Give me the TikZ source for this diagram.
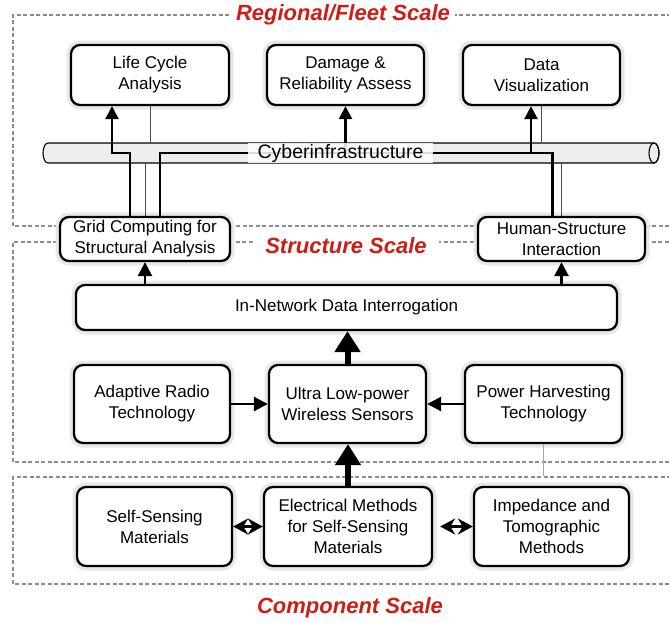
\documentclass[tikz,border=0pt]{standalone}
\usepackage{fontspec}
\setmainfont{Liberation Sans}
\usetikzlibrary{arrows.meta,calc}
\definecolor{scalered}{RGB}{204,30,20}
\begin{document}
\begin{tikzpicture}[x=1pt,y=-1pt,
  box/.style={draw, line width=2.3pt, rounded corners=9pt, fill=white, align=center, inner sep=0pt,
    font=\fontsize{17}{21}\selectfont, preaction={draw=black!9, line width=9pt}},
  frame/.style={draw=black!45, line width=1.6pt, dash pattern=on 4pt off 2.5pt},
  scalelabel/.style={text=scalered, font=\fontsize{22}{26}\selectfont\bfseries\itshape},
  thinline/.style={draw=black!70, line width=0.8pt},
  bus/.style={line width=2.6pt},
  busarrow/.style={line width=2.6pt, -{Triangle[width=13pt,length=13pt]}},
  medarrow/.style={line width=2.6pt, -{Triangle[width=14pt,length=14pt]}},
  bigarrow/.style={line width=6pt, -{Triangle[width=25pt,length=21pt]}},
  dblarrow/.style={line width=2.6pt, {Stealth[width=16pt,length=15pt]}-{Stealth[width=16pt,length=15pt]}},
]
\useasboundingbox (0,0) rectangle (669,622);

% scale frames
\draw[frame] (669,226) -- (13,226) -- (13,15) -- (669,15);
\draw[frame] (669,462) -- (13,462) -- (13,242) -- (669,242);
\draw[frame] (669,584) -- (13,584) -- (13,477) -- (669,477);

\node[scalelabel, fill=white, inner xsep=5pt, inner ysep=1pt] (tReg) at (343,15) {Regional/Fleet Scale};
\node[scalelabel, fill=white, inner xsep=12pt, inner ysep=1pt] (tStr) at (346,246) {Structure Scale};
\node[scalelabel] (tComp) at (350,608) {Component Scale};

% cyberinfrastructure pipe
\node[minimum width=616pt, minimum height=20pt, inner sep=0pt] (pipe) at (351,153) {};
\filldraw[fill=black!7, line width=1.1pt] (48,143) -- (654,143) arc(-90:90:5 and 10) -- (48,163) arc(90:270:5 and 10) -- cycle;
\draw[line width=1.1pt] (654,153) ellipse (5 and 10);

% boxes
\node[box, minimum width=158pt, minimum height=60pt] (lca) at (150,75) {Life Cycle\\Analysis};
\node[box, minimum width=157pt, minimum height=60pt] (dra) at (345.5,75) {Damage \&\\Reliability Assess};
\node[box, minimum width=157pt, minimum height=60pt] (dv) at (541.5,75) {Data\\Visualization};

\node[box, minimum width=170pt, minimum height=44pt] (grid) at (145,239) {Grid Computing for\\Structural Analysis};
\node[box, minimum width=167pt, minimum height=44pt] (hsi) at (561.5,239) {Human-Structure\\Interaction};

\node[box, minimum width=541pt, minimum height=45pt] (indi) at (346.5,307.5) {In-Network Data Interrogation};

\node[box, minimum width=156pt, minimum height=78pt] (art) at (152,404) {Adaptive Radio\\Technology};
\node[box, minimum width=157pt, minimum height=78pt] (ultra) at (347.5,404) {Ultra Low-power\\Wireless Sensors};
\node[box, minimum width=157pt, minimum height=78pt] (pht) at (543.5,404) {Power Harvesting\\Technology};

\node[box, minimum width=155pt, minimum height=79pt] (ssm) at (154.5,526.5) {Self-Sensing\\Materials};
\node[box, minimum width=168pt, minimum height=79pt] (emsm) at (348,526.5) {Electrical Methods\\for Self-Sensing\\Materials};
\node[box, minimum width=155pt, minimum height=79pt] (itm) at (551.5,526.5) {Impedance and\\Tomographic\\Methods};

% thin links to the pipe
\draw[thinline] (lca.south) -- (lca.south |- pipe.north);
\draw[thinline] (dv.south) -- (dv.south |- pipe.north);
\draw[thinline] (pipe.south -| grid.north) -- (grid.north);
\draw[thinline] (pipe.south -| hsi.north) -- (hsi.north);
\draw[thinline, draw=black!35] (pht.south) -- (pht.south |- itm.north) [shorten >=10pt];

% bus through the cyberinfrastructure
\coordinate (j1) at (112,153);
\coordinate (j2) at (345.5,153);
\coordinate (j3) at (531,153);
\draw[busarrow] ([xshift=-15pt]grid.north) |- (j1) -- (j1 |- lca.south);
\draw[bus] ([xshift=15pt]grid.north) |- (j2) -| ([xshift=-9pt]hsi.north);
\draw[busarrow] (j2) -- (dra.south);
\draw[busarrow] (j3) -- (j3 |- dv.south);

\node[fill=white, fill opacity=0.85, text opacity=1, minimum width=185pt, minimum height=20pt, inner sep=0pt,
  font=\fontsize{19.5}{21}\selectfont] (cyber) at (340.5,153) {Cyberinfrastructure};

% arrows
\draw[medarrow] (grid.south |- indi.north) -- (grid.south);
\draw[medarrow] (hsi.south |- indi.north) -- (hsi.south);
\draw[bigarrow] (ultra.north) -- (ultra.north |- indi.south);
\draw[medarrow] (art.east) -- (ultra.west);
\draw[medarrow] (pht.west) -- (ultra.east);
\draw[bigarrow] (emsm.north) -- (emsm.north |- ultra.south);
\draw[dblarrow] (ssm.east) -- (emsm.west);
\draw[dblarrow] ([xshift=7pt]emsm.east) -- (itm.west);
\end{tikzpicture}
\end{document}
